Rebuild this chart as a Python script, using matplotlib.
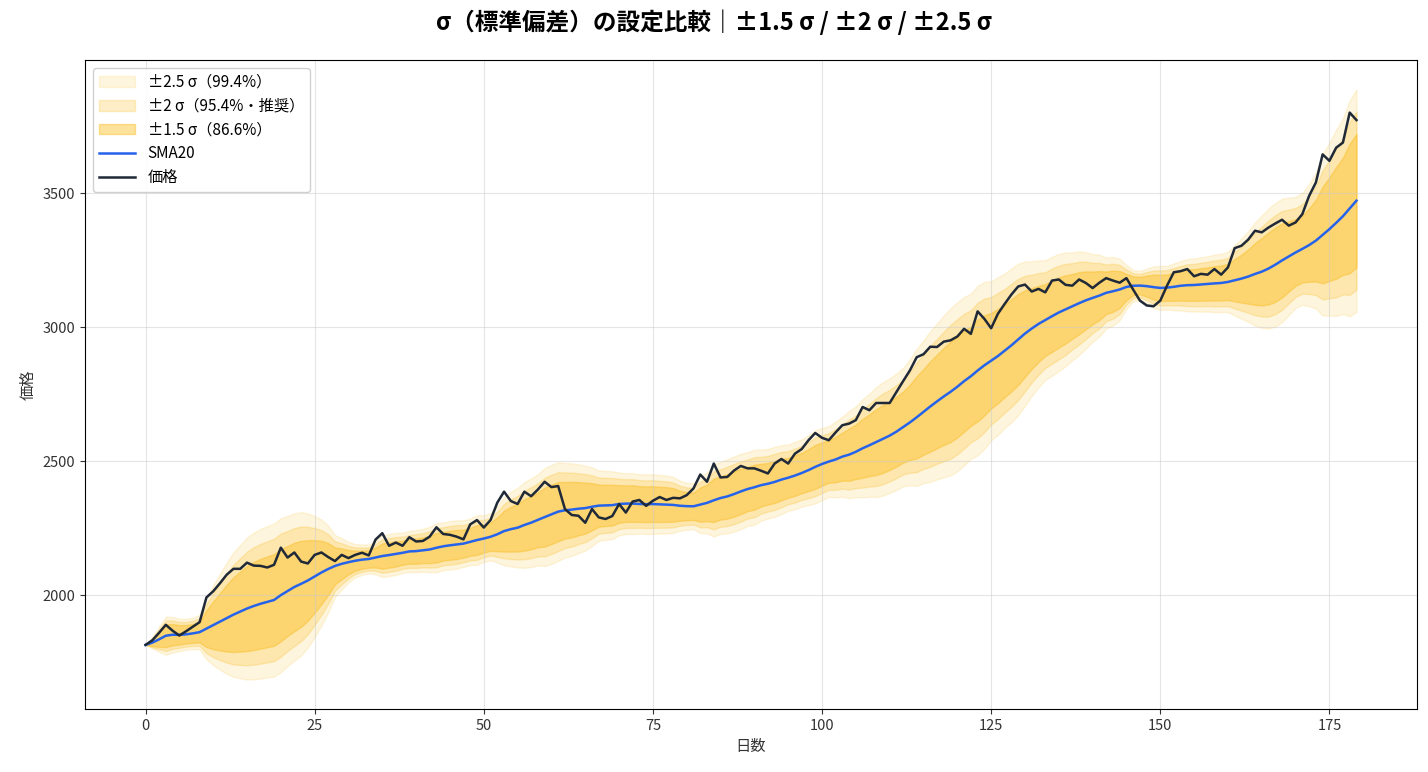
import numpy as np
import pandas as pd
import matplotlib
matplotlib.use('Agg')
import matplotlib.pyplot as plt

plt.rcParams['font.family'] = ['Noto Sans CJK JP', 'DejaVu Sans']

# price, one value per day (0..179)
price = [
    1815, 1832, 1860, 1890, 1868, 1850, 1866, 1883, 1900, 1992,
    2015, 2045, 2077, 2099, 2099, 2122, 2111, 2110, 2104, 2114,
    2178, 2141, 2160, 2126, 2119, 2151, 2160, 2143, 2128, 2151,
    2139, 2151, 2159, 2149, 2208, 2232, 2185, 2197, 2185, 2217,
    2201, 2203, 2219, 2254, 2229, 2226, 2219, 2209, 2265, 2281,
    2253, 2281, 2346, 2387, 2352, 2341, 2387, 2370, 2395, 2424,
    2404, 2408, 2322, 2300, 2297, 2271, 2322, 2291, 2285, 2296,
    2341, 2309, 2350, 2356, 2334, 2353, 2367, 2356, 2364, 2362,
    2374, 2399, 2451, 2424, 2492, 2440, 2442, 2466, 2483, 2474,
    2474, 2465, 2455, 2492, 2509, 2492, 2529, 2546, 2579, 2606,
    2588, 2579, 2608, 2635, 2641, 2654, 2703, 2691, 2718, 2718,
    2718, 2759, 2800, 2840, 2889, 2900, 2928, 2927, 2947, 2952,
    2966, 2995, 2976, 3060, 3032, 2997, 3051, 3088, 3123, 3153,
    3160, 3134, 3144, 3131, 3175, 3179, 3159, 3156, 3179, 3166,
    3147, 3167, 3184, 3175, 3167, 3184, 3141, 3100, 3082, 3079,
    3100, 3156, 3206, 3210, 3218, 3191, 3200, 3197, 3218, 3197,
    3224, 3296, 3305, 3328, 3361, 3355, 3373, 3388, 3402, 3380,
    3392, 3423, 3491, 3541, 3646, 3622, 3671, 3690, 3802, 3774,
]

band_ks = [2.5, 2.0, 1.5]
band_labels = ['±2.5 σ（99.4%）', '±2 σ（95.4%・推奨）', '±1.5 σ（86.6%）']
band_alphas = [0.15, 0.25, 0.45]
band_color = '#FBBF24'

s = pd.Series(price, dtype=float)
days = np.arange(len(s))
sma = s.rolling(20, min_periods=1).mean()
std = s.rolling(20, min_periods=1).std(ddof=0).fillna(0)

fig, ax = plt.subplots(figsize=(14.28, 7.72), dpi=100)
fig.subplots_adjust(left=0.0595, right=0.9923, top=0.9223, bottom=0.0816)

for k, lab, a in zip(band_ks, band_labels, band_alphas):
    ax.fill_between(days, sma - k * std, sma + k * std,
                    color=band_color, alpha=a, label=lab)

ax.plot(days, sma, color='#2563EB', lw=1.8, label='SMA20')
ax.plot(days, s, color='#1F2937', lw=1.8, label='価格')

ax.grid(True, color='#cccccc', alpha=0.5, lw=0.8)
ax.set_xlabel('日数', fontsize=11, color='#333333')
ax.set_ylabel('価格', fontsize=11, color='#333333')
ax.tick_params(labelsize=10.5, colors='#333333')
ax.set_xticks([0, 25, 50, 75, 100, 125, 150, 175])
ax.set_yticks([2000, 2500, 3000, 3500])

ax.legend(loc='upper left', fontsize=11, framealpha=0.9,
          handlelength=2.4, labelspacing=0.45)
fig.suptitle('σ（標準偏差）の設定比較｜±1.5 σ / ±2 σ / ±2.5 σ',
             fontsize=17, fontweight='bold', y=0.9715, va='center')

plt.savefig('out.png', dpi=100)
